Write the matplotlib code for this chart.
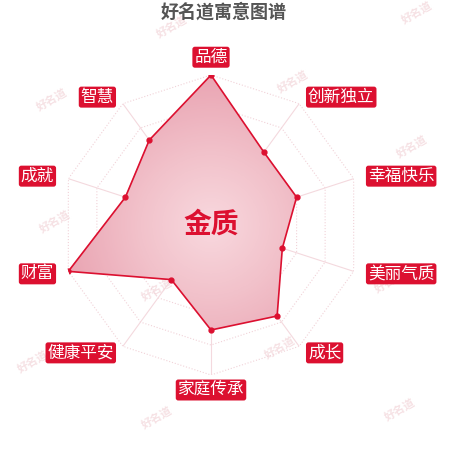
import numpy as np
import matplotlib
matplotlib.use('Agg')
import matplotlib.pyplot as plt
from matplotlib.colors import LinearSegmentedColormap
from matplotlib.transforms import offset_copy

plt.rcParams['font.family'] = ['Noto Sans CJK SC', 'DejaVu Sans']

# chart data
title = '好名道寓意图谱'
grade = '金质'
categories = ['品德', '创新独立', '幸福快乐', '美丽气质', '成长',
              '家庭传承', '健康平安', '财富', '成就', '智慧']
scores = [100, 60, 60, 50, 75, 70, 45, 100, 60, 70]
max_score = 100
ring_levels = [20, 40, 60, 80, 100]

red = '#dc1030'

fig = plt.figure(figsize=(4.5, 4.5), dpi=100)
fig.patch.set_facecolor('white')

# faint watermark stamps in the background
marks = [(172, 27), (52, 100), (293, 82), (417, 13), (412, 147), (55, 222),
         (157, 290), (33, 362), (280, 348), (157, 418), (400, 410), (390, 282)]
for x, y in marks:
    fig.text(x / 450, 1 - y / 450, '好名道', rotation=30, color='#f6e1e4',
             fontsize=8, fontweight='bold', ha='center', va='center', zorder=0)

ax = fig.add_axes([61 / 450, 75 / 450, 300 / 450, 300 / 450], projection='polar')
ax.set_zorder(1)
ax.set_facecolor('none')
ax.set_theta_zero_location('N')
ax.set_theta_direction(-1)
ax.set_ylim(0, max_score)
ax.set_xticks([])
ax.set_yticks([])
ax.grid(False)
ax.spines['polar'].set_visible(False)

n = len(categories)
angles = np.linspace(0, 2 * np.pi, n, endpoint=False)
angles_c = np.append(angles, angles[0])
scores_c = np.append(scores, scores[0])

# decagon rings and spokes
for lvl in ring_levels:
    ax.plot(angles_c, [lvl] * (n + 1), color='#f1d2d8', lw=0.8, ls=':', zorder=1)
for a in angles:
    ax.plot([a, a], [0, max_score], color='#f4d9de', lw=0.8, zorder=1)

# data polygon with radial gradient
poly = ax.fill(angles_c, scores_c, facecolor='none', edgecolor='none', zorder=2)[0]
cmap = LinearSegmentedColormap.from_list('pinks', ['#f8d8de', '#f1c0c9', '#e9a4b2'])
T, R = np.meshgrid(np.linspace(0, 2 * np.pi, 240), np.linspace(0, max_score, 120))
mesh = ax.pcolormesh(T, R, R, cmap=cmap, shading='auto', zorder=2)
mesh.set_clip_path(poly)
ax.plot(angles_c, scores_c, color=red, lw=1.2, zorder=3)
ax.plot(angles, scores, 'o', color=red, ms=3.5, zorder=4)

# axis name labels
for a, name in zip(angles, categories):
    s, c = np.sin(a), np.cos(a)
    if s > 0.1:
        ha = 'left'
        dy = -c * 5
    elif s < -0.1:
        ha = 'right'
        dy = -c * 5
    else:
        ha = 'center'
        dy = 2 if c > 0 else 0
    tr = offset_copy(ax.transData, fig=fig, x=0, y=dy, units='points')
    ax.text(a, max_score * 1.1, name, ha=ha, va='center', color='white',
            fontsize=12, zorder=5, transform=tr,
            bbox=dict(boxstyle='round,pad=0.12,rounding_size=0.15', fc=red, ec='none'))

ax.text(0, 0, grade, ha='center', va='center', color=red, fontsize=20,
        fontweight='bold', zorder=5)

fig.text(0.498, 1 - 12 / 450, title, ha='center', va='center', fontsize=13,
         fontweight='bold', color='#555555')

fig.savefig('out.png', dpi=100)
